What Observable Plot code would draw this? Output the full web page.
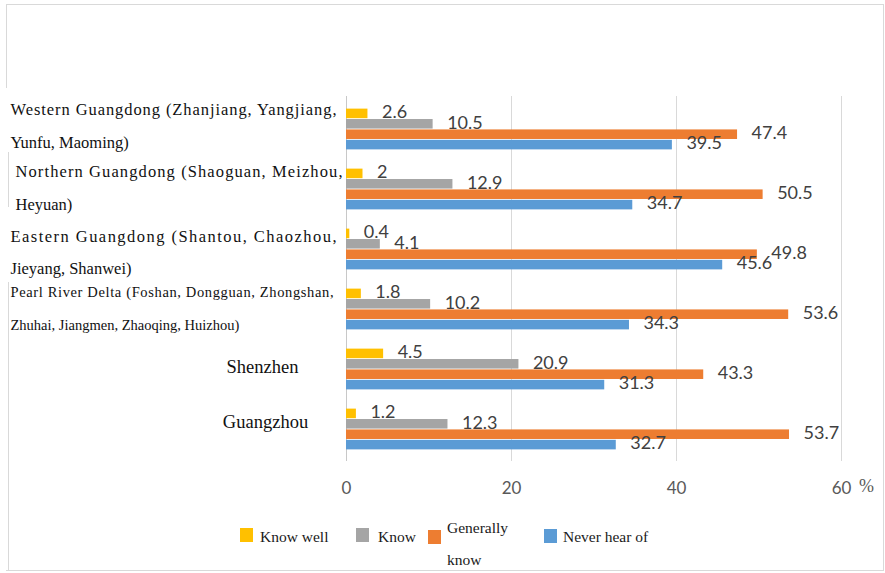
<!DOCTYPE html>
<html>
<head>
<meta charset="utf-8">
<script src="https://cdn.jsdelivr.net/npm/d3@7"></script>
<script src="https://cdn.jsdelivr.net/npm/@observablehq/plot@0.6"></script>
<style>
  body { margin: 0; background: #fff; }
  #wrap { position: relative; width: 885px; height: 573px; overflow: hidden; background: #fff; }
  #chart svg { display: block; }
  .bl { position: absolute; background: #d9d9d9; }
  #legend { position: absolute; left: 0; top: 515px; width: 885px; height: 58px; font-family: "Liberation Serif", "Times New Roman", serif; font-size: 15.5px; color: #1a1a1a; }
  #legend .sw { position: absolute; width: 13px; height: 14px; }
  #legend .tx { position: absolute; line-height: 18px; white-space: nowrap; }
</style>
</head>
<body>
<div id="wrap">
  <div id="chart"></div>
  <div id="legend"></div>
</div>
<script>
// ---------- data ----------
const regions = ["Western Guangdong", "Northern Guangdong", "Eastern Guangdong", "Pearl River Delta", "Shenzhen", "Guangzhou"];
const labelLine1 = [
  "Western Guangdong (Zhanjiang, Yangjiang,",
  "Northern Guangdong (Shaoguan, Meizhou,",
  "Eastern Guangdong (Shantou, Chaozhou,",
  "Pearl River Delta (Foshan, Dongguan, Zhongshan,",
  "Shenzhen",
  "Guangzhou"
];
const labelLine2 = [
  "Yunfu, Maoming)",
  "Heyuan)",
  "Jieyang, Shanwei)",
  "Zhuhai, Jiangmen, Zhaoqing, Huizhou)",
  "",
  ""
];
const seriesNames = ["Know well", "Know", "Generally know", "Never hear of"];
const knowWell      = [2.6, 2, 0.4, 1.8, 4.5, 1.2];
const know          = [10.5, 12.9, 4.1, 10.2, 20.9, 12.3];
const generallyKnow = [47.4, 50.5, 49.8, 53.6, 43.3, 53.7];
const neverHeard    = [39.5, 34.7, 45.6, 34.3, 31.3, 32.7];
const xTicks = [0, 20, 40, 60];

// ---------- styles / layout ----------
const colors = ["#FFC000", "#A5A5A5", "#ED7D31", "#5B9BD5"];
const W = 885, H = 515, mL = 346, mR = 44, mT = 96, mB = 54;
const step = (H - mT - mB) / regions.length;
const barH = 10.4;
const groupPad = (step - 4 * barH) / 2;
const labelLayout = [
  {x0: 10, w: 326, dy1: -20, dy2: 13, fs: 16.5},
  {x0: 15, w: 327, dy1: -17.5, dy2: 15.5, fs: 16.5},
  {x0: 10, w: 326, dy1: -13, dy2: 19, fs: 16.5},
  {x0: 10, w: 323, dy1: -17, dy2: 16, fs: 14.5},
  {cx: 262, dy1: -2, fs: 18.5},
  {cx: 265, dy1: -7, fs: 18.5}
];

const allSeries = [knowWell, know, generallyKnow, neverHeard];
const marks = [];

// gridlines
marks.push(Plot.ruleX(xTicks, {stroke: d => d === 0 ? "#c8c8c8" : "#d9d9d9", strokeWidth: 1}));

// bars
const seriesRows = allSeries.map(vals => regions.map((r, j) => ({region: r, v: vals[j]})));
seriesRows.forEach((rows, i) => {
  marks.push(Plot.barX(rows, {
    x: "v", y: "region", fill: colors[i],
    insetTop: groupPad + i * barH,
    insetBottom: step - groupPad - (i + 1) * barH
  }));
});
// value labels (drawn above all bars)
seriesRows.forEach((rows, i) => {
  marks.push(Plot.text(rows, {
    x: "v", y: "region", text: d => String(d.v),
    dx: 14, dy: -step / 2 + groupPad + (i + 0.5) * barH - 1.5,
    textAnchor: "start", fontSize: 18, fontFamily: "Lato", fill: "#404040"
  }));
});

// region labels
const justify = new Map();
regions.forEach((r, j) => {
  const L = labelLayout[j];
  const row = [{region: r}];
  if (L.cx !== undefined) {
    marks.push(Plot.text(row, {
      y: "region", text: () => labelLine1[j], frameAnchor: "left",
      dx: L.cx - mL, dy: L.dy1, textAnchor: "middle",
      fontSize: L.fs, fontFamily: "Liberation Serif", fill: "#111"
    }));
  } else {
    justify.set(labelLine1[j], L.w);
    marks.push(Plot.text(row, {
      y: "region", text: () => labelLine1[j], frameAnchor: "left",
      dx: L.x0 - mL, dy: L.dy1, textAnchor: "start",
      fontSize: L.fs, fontFamily: "Liberation Serif", fill: "#111"
    }));
    marks.push(Plot.text(row, {
      y: "region", text: () => labelLine2[j], frameAnchor: "left",
      dx: L.x0 - mL, dy: L.dy2, textAnchor: "start",
      fontSize: L.fs, fontFamily: "Liberation Serif", fill: "#111"
    }));
  }
});

// percent unit after last tick
marks.push(Plot.text(["%"], {
  x: xTicks[xTicks.length - 1], frameAnchor: "bottom", dy: 30, dx: 25,
  text: d => d, fontSize: 18, fontFamily: "Liberation Serif", fill: "#595959"
}));

const chart = Plot.plot({
  width: W, height: H,
  marginLeft: mL, marginRight: mR, marginTop: mT, marginBottom: mB,
  style: {fontFamily: "Lato", fontSize: "17px", color: "#595959", background: "transparent", overflow: "visible"},
  x: {domain: [0, 60], ticks: xTicks, tickSize: 0, tickPadding: 20, label: null, tickFormat: d => String(d)},
  y: {domain: regions, padding: 0, axis: null},
  marks
});

// justify first lines of long labels
d3.select(chart).selectAll("text").each(function() {
  const t = this.textContent;
  if (justify.has(t)) {
    this.setAttribute("textLength", justify.get(t));
    this.setAttribute("lengthAdjust", "spacing");
  }
});

document.getElementById("chart").appendChild(chart);

// ---------- legend ----------
const legend = document.getElementById("legend");
const legendPos = [
  {sx: 240, sy: 13, tx: 260, ty: 13, text: "Know well"},
  {sx: 356, sy: 13, tx: 378, ty: 13, text: "Know"},
  {sx: 428, sy: 15, tx: 447, ty: 4, text: "Generally", text2: "know", ty2: 36},
  {sx: 544, sy: 14, tx: 563, ty: 13, text: "Never hear of"}
];
seriesNames.forEach((name, i) => {
  const p = legendPos[i];
  const sw = document.createElement("div");
  sw.className = "sw";
  sw.style.left = p.sx + "px"; sw.style.top = p.sy + "px"; sw.style.background = colors[i];
  legend.appendChild(sw);
  const words = p.text2 ? [p.text, p.text2] : [name];
  const tops = p.text2 ? [p.ty, p.ty2] : [p.ty];
  words.forEach((w, k) => {
    const t = document.createElement("div");
    t.className = "tx";
    t.style.left = p.tx + "px"; t.style.top = tops[k] + "px";
    t.textContent = w;
    legend.appendChild(t);
  });
});

// ---------- frame border ----------
const wrap = document.getElementById("wrap");
[
  {l: 6, t: 4, w: 878, h: 1},
  {l: 883, t: 4, w: 1, h: 567},
  {l: 6, t: 570, w: 878, h: 1},
  {l: 6, t: 4, w: 1, h: 84},
  {l: 8, t: 152, w: 1, h: 55},
  {l: 8, t: 282, w: 1, h: 289}
].forEach(b => {
  const d = document.createElement("div");
  d.className = "bl";
  d.style.left = b.l + "px"; d.style.top = b.t + "px";
  d.style.width = b.w + "px"; d.style.height = b.h + "px";
  wrap.appendChild(d);
});
</script>
</body>
</html>
